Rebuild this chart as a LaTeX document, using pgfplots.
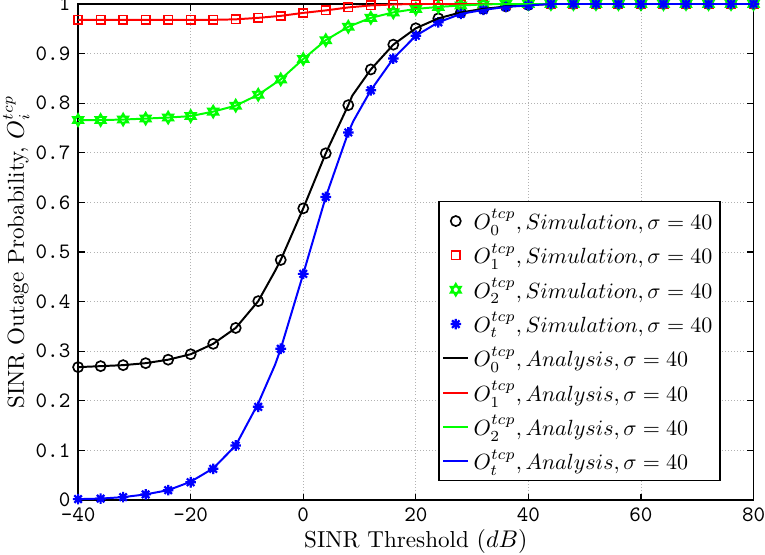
\documentclass[border=0pt]{standalone}
\usepackage{pgfplots}
\pgfplotsset{compat=1.18}
\usepackage{fontspec}
\usetikzlibrary{calc,plotmarks}

\pgfdeclareplotmark{hexagram}{%
  \pgfpathmoveto{\pgfqpointpolar{90}{\pgfplotmarksize}}%
  \pgfpathlineto{\pgfqpointpolar{210}{\pgfplotmarksize}}%
  \pgfpathlineto{\pgfqpointpolar{330}{\pgfplotmarksize}}%
  \pgfpathclose
  \pgfpathmoveto{\pgfqpointpolar{270}{\pgfplotmarksize}}%
  \pgfpathlineto{\pgfqpointpolar{30}{\pgfplotmarksize}}%
  \pgfpathlineto{\pgfqpointpolar{150}{\pgfplotmarksize}}%
  \pgfpathclose
  \pgfusepathqstroke
}
\pgfdeclareplotmark{mstar}{%
  \pgfpathmoveto{\pgfqpoint{-\pgfplotmarksize}{0pt}}%
  \pgfpathlineto{\pgfqpoint{\pgfplotmarksize}{0pt}}%
  \pgfpathmoveto{\pgfqpoint{0pt}{-\pgfplotmarksize}}%
  \pgfpathlineto{\pgfqpoint{0pt}{\pgfplotmarksize}}%
  \pgfpathmoveto{\pgfqpointpolar{45}{\pgfplotmarksize}}%
  \pgfpathlineto{\pgfqpointpolar{225}{\pgfplotmarksize}}%
  \pgfpathmoveto{\pgfqpointpolar{135}{\pgfplotmarksize}}%
  \pgfpathlineto{\pgfqpointpolar{315}{\pgfplotmarksize}}%
  \pgfusepathqstroke
}

\definecolor{mgreen}{rgb}{0,1,0}
\definecolor{mred}{rgb}{1,0,0}
\definecolor{mblue}{rgb}{0,0,1}

\pgfplotstableread{
x y
-40 0.268
-36 0.270
-32 0.272
-28 0.276
-24 0.283
-20 0.294
-16 0.315
-12 0.347
-8 0.401
-4 0.484
0 0.588
4 0.699
8 0.796
12 0.868
16 0.918
20 0.951
24 0.971
28 0.983
32 0.990
36 0.995
40 0.998
44 1.0
48 1.0
52 1.0
56 1.0
60 1.0
64 1.0
68 1.0
72 1.0
76 1.0
80 1.0
}\simzero

\pgfplotstableread{
x y
-40 0.968
-36 0.968
-32 0.968
-28 0.968
-24 0.968
-20 0.968
-16 0.968
-12 0.969
-8 0.972
-4 0.976
0 0.982
4 0.987
8 0.993
12 0.997
16 0.999
20 1.0
24 1.0
28 1.0
32 1.0
36 1.0
40 1.0
44 1.0
48 1.0
52 1.0
56 1.0
60 1.0
64 1.0
68 1.0
72 1.0
76 1.0
80 1.0
}\simone

\pgfplotstableread{
x y
-40 0.766
-36 0.766
-32 0.767
-28 0.769
-24 0.771
-20 0.774
-16 0.783
-12 0.795
-8 0.817
-4 0.848
0 0.889
4 0.927
8 0.954
12 0.972
16 0.983
20 0.990
24 0.994
28 0.997
32 0.999
36 1.0
40 1.0
44 1.0
48 1.0
52 1.0
56 1.0
60 1.0
64 1.0
68 1.0
72 1.0
76 1.0
80 1.0
}\simtwo

\pgfplotstableread{
x y
-40 0.002
-36 0.003
-32 0.006
-28 0.0115
-24 0.020
-20 0.036
-16 0.063
-12 0.110
-8 0.188
-4 0.305
0 0.456
4 0.611
8 0.741
12 0.826
16 0.890
20 0.936
24 0.963
28 0.980
32 0.988
36 0.994
40 0.997
44 1.0
48 1.0
52 1.0
56 1.0
60 1.0
64 1.0
68 1.0
72 1.0
76 1.0
80 1.0
}\simt

\pgfplotstableread{
x y
-40 0.268
-36 0.270
-32 0.272
-28 0.276
-24 0.283
-20 0.294
-16 0.315
-12 0.347
-8 0.401
-5 0.462
-4 0.484
0 0.588
4 0.699
8 0.796
8.7 0.815
12 0.868
16 0.918
20 0.951
24 0.971
28 0.983
32 0.990
36 0.995
40 0.998
44 1.0
80 1.0
}\anazero

\pgfplotstableread{
x y
-40 0.002
-36 0.003
-32 0.006
-28 0.0115
-24 0.020
-20 0.037
-16 0.064
-12 0.110
-8 0.195
-5 0.273
-4 0.305
0 0.456
4 0.611
8 0.741
8.9 0.764
12 0.826
16 0.890
20 0.936
24 0.963
28 0.980
32 0.988
36 0.994
40 0.997
44 1.0
80 1.0
}\anat

\begin{document}
\begin{tikzpicture}
\begin{axis}[
  scale only axis,
  width=307pt, height=225.5pt,
  xmin=-40, xmax=80, ymin=0, ymax=1,
  xtick={-40,-20,0,20,40,60,80},
  ytick={0,0.1,0.2,0.3,0.4,0.5,0.6,0.7,0.8,0.9,1},
  grid=major,
  major grid style={densely dotted, gray!60, line width=0.4pt},
  axis line style={line width=0.6pt},
  tick style={black, line width=0.5pt},
  major tick length=3pt,
  ticklabel style={font=\fontsize{10}{11}\ttfamily},
  /pgf/number format/assume math mode=true,
  xlabel={SINR Threshold $(dB)$},
  ylabel={SINR Outage Probability, $O_i^{tcp}$},
  label style={font=\fontsize{10.5}{12}\selectfont},
  xlabel style={yshift=3.5pt},
  ylabel style={yshift=-4pt},
  clip mode=individual,
  legend cell align=left,
  legend image code/.code={\draw[mark repeat=2,mark phase=2,#1] plot coordinates {(0cm,0cm) (0.2cm,0cm) (0.4cm,0cm)};},
  legend style={at={(1,0)}, anchor=south east, xshift=-15pt, yshift=8.5pt,
    draw=black, line width=0.5pt, fill=white, inner sep=1.5pt,
    font=\fontsize{10}{12}\selectfont, row sep=1pt},
]
\addplot[only marks, black, mark=o, mark size=2.3pt, line width=0.75pt] table {\simzero};
\addlegendentry{$O_0^{tcp}, Simulation, \sigma=40$}
\addplot[only marks, mred, mark=square, mark size=1.9pt, line width=0.75pt] table {\simone};
\addlegendentry{$O_1^{tcp}, Simulation, \sigma=40$}
\addplot[only marks, mgreen, mark=hexagram, mark size=2.7pt, line width=0.85pt] table {\simtwo};
\addlegendentry{$O_2^{tcp}, Simulation, \sigma=40$}
\addplot[only marks, mblue, mark=mstar, mark size=2.4pt, line width=1pt] table {\simt};
\addlegendentry{$O_t^{tcp}, Simulation, \sigma=40$}
\addplot[black, line width=0.9pt, no marks] table {\anazero};
\addlegendentry{$O_0^{tcp}, Analysis, \sigma=40$}
\addplot[mred, line width=0.9pt, no marks] table {\simone};
\addlegendentry{$O_1^{tcp}, Analysis, \sigma=40$}
\addplot[mgreen, line width=0.9pt, no marks] table {\simtwo};
\addlegendentry{$O_2^{tcp}, Analysis, \sigma=40$}
\addplot[mblue, line width=0.9pt, no marks] table {\anat};
\addlegendentry{$O_t^{tcp}, Analysis, \sigma=40$}
\end{axis}
\pgfresetboundingbox
\path ($(current axis.south west)+(-35.5pt,-24.5pt)$) rectangle ($(current axis.north east)+(5.2pt,1.8pt)$);
\end{tikzpicture}
\end{document}
